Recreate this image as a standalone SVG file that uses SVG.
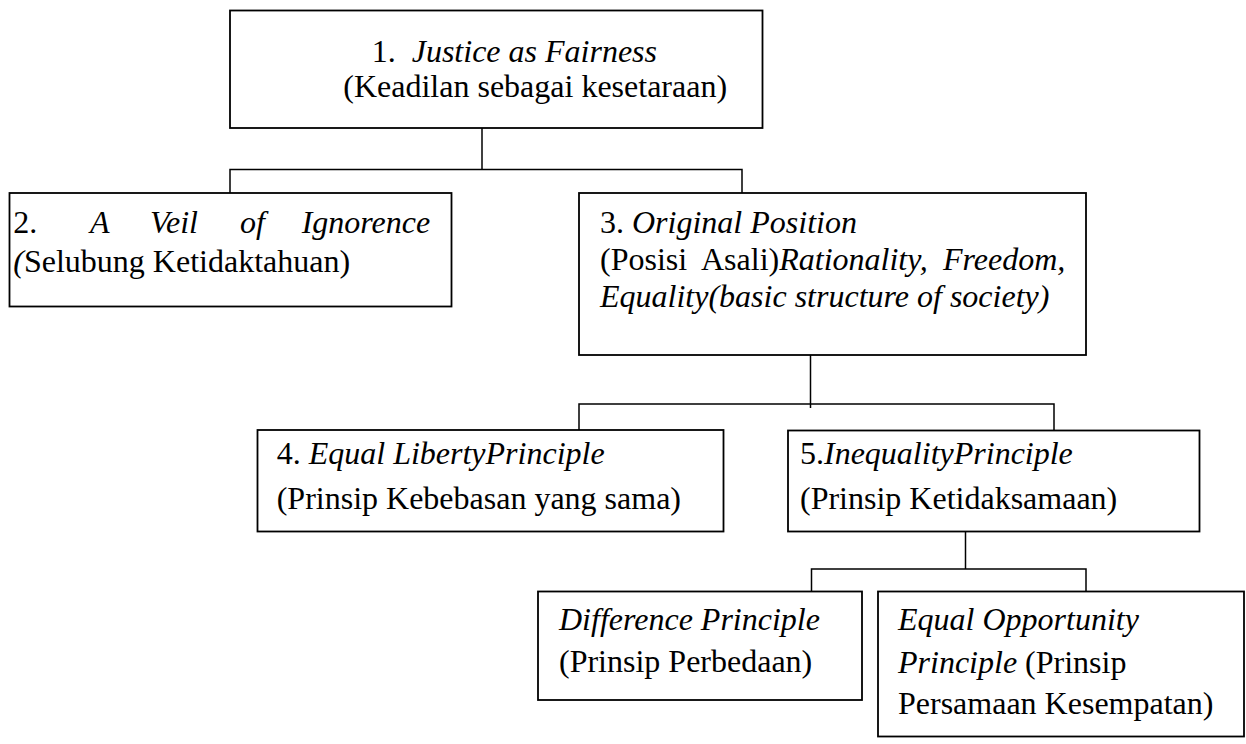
<svg xmlns="http://www.w3.org/2000/svg" width="1246" height="744" viewBox="0 0 1246 744">
<style>
  .box { fill: #ffffff; stroke: #000000; stroke-width: 1.8; }
  .conn { fill: none; stroke: #000000; stroke-width: 1.5; }
  text { font-family: "Liberation Serif", "Times New Roman", serif; font-size: 32px; fill: #000000; }
  .i { font-style: italic; }
</style>
<rect x="0" y="0" width="1246" height="744" fill="#ffffff"/>
<g id="connectors">
  <polyline class="conn" points="482,128 482,169.5"/>
  <polyline class="conn" points="230,193 230,169.5 742,169.5 742,193"/>
  <polyline class="conn" points="810.5,355 810.5,408"/>
  <polyline class="conn" points="579,430 579,404 1054,404 1054,430.5"/>
  <polyline class="conn" points="965.5,531.5 965.5,569"/>
  <polyline class="conn" points="811.5,591.5 811.5,569 1086,569 1086,591.5"/>
</g>
<g id="node1">
  <rect class="box" x="230" y="10.5" width="532.5" height="117.5"/>
  <text x="371.7" y="61.7">1.</text>
  <text x="411.7" y="61.7" class="i">Justice as Fairness</text>
  <text x="343.3" y="96.7">(Keadilan sebagai kesetaraan)</text>
</g>
<g id="node2">
  <rect class="box" x="9.5" y="193" width="442" height="113.5"/>
  <text x="13.3" y="233">2.</text>
  <text x="90" y="233" class="i">A</text>
  <text x="150" y="233" class="i">Veil</text>
  <text x="240" y="233" class="i">of</text>
  <text x="301.7" y="233" class="i">Ignorence</text>
  <text x="13.3" y="271.5"><tspan class="i">(</tspan>Selubung Ketidaktahuan)</text>
</g>
<g id="node3">
  <rect class="box" x="579" y="193" width="507" height="162"/>
  <text x="600" y="233">3. <tspan class="i">Original Position</tspan></text>
  <text x="600" y="270">(Posisi</text>
  <text x="701" y="270">Asali)<tspan class="i">Rationality,</tspan></text>
  <text x="943" y="270" class="i">Freedom,</text>
  <text x="600" y="306.5" class="i">Equality(basic structure of society)</text>
</g>
<g id="node4">
  <rect class="box" x="257.5" y="430" width="466" height="101.5"/>
  <text x="276.7" y="464">4. <tspan class="i">Equal LibertyPrinciple</tspan></text>
  <text x="276.7" y="509">(Prinsip Kebebasan yang sama)</text>
</g>
<g id="node5">
  <rect class="box" x="788" y="430.5" width="411.5" height="101"/>
  <text x="800" y="464">5.<tspan class="i">InequalityPrinciple</tspan></text>
  <text x="800" y="509">(Prinsip Ketidaksamaan)</text>
</g>
<g id="node6">
  <rect class="box" x="538" y="591.5" width="324" height="108.5"/>
  <text x="559" y="630" class="i">Difference Principle</text>
  <text x="559" y="672">(Prinsip Perbedaan)</text>
</g>
<g id="node7">
  <rect class="box" x="878" y="591.5" width="366" height="145"/>
  <text x="898" y="630" class="i">Equal Opportunity</text>
  <text x="898" y="673"><tspan class="i">Principle</tspan> (Prinsip</text>
  <text x="898" y="713.5">Persamaan Kesempatan)</text>
</g>
</svg>
